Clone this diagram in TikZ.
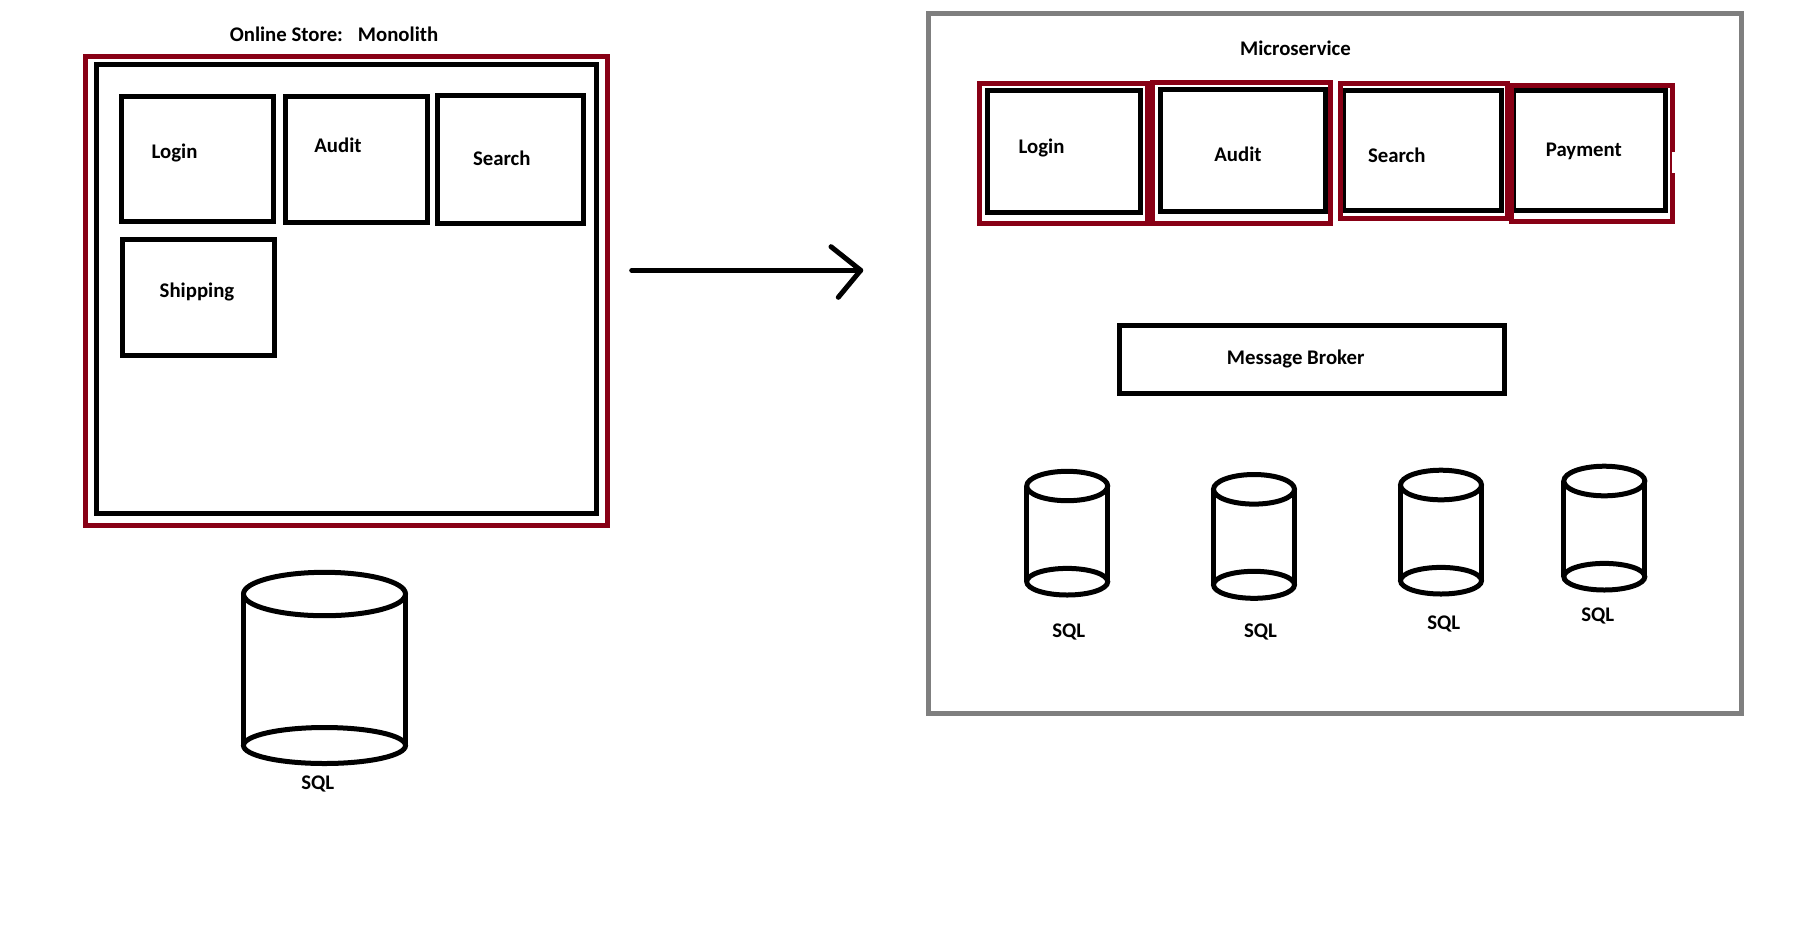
\documentclass[tikz,border=0pt]{standalone}
\usepackage{fontspec}
\setmainfont{Carlito}
\usetikzlibrary{positioning}
\definecolor{darkred}{HTML}{880015}
\definecolor{framegray}{HTML}{7F7F7F}

\begin{document}
\begin{tikzpicture}[x=1pt,y=-1pt,font=\fontsize{20.8}{25}\selectfont\bfseries,
  box/.style 2 args={draw,line width=5pt,inner sep=0pt,minimum width={#1pt-5pt},minimum height={#2pt-5pt}},
  lbl/.style={anchor=base,inner sep=0pt},
  dbline/.style={draw,line width=5pt},
  arrowline/.style={draw,line width=5pt,line cap=round,line join=round}]
\useasboundingbox (0,0) rectangle (1814,930);
% monolith
\node[box={527}{474},draw=darkred] (mono) at (346.5,291) {};
\node[box={504.6}{454}] (monoin) at (346.3,289) {};
\node[box={157}{130}] (mlogin) at (197.5,159) {};
\node[box={147}{131}] (maudit) at (356.4,159.5) {};
\node[box={151}{133}] (msearch) at (510.5,159.5) {};
\node[box={157.1}{121}] (mship) at (198.6,297.5) {};
\node[lbl] (tmono) at (334,41) {Online Store:\hspace{15pt}Monolith};
\node[lbl] (tlogin) at (174.5,158) {Login};
\node[lbl] (taudit) at (338,152) {Audit};
\node[lbl] (tsearch) at (501.8,165) {Search};
\node[lbl] (tship) at (197,297.3) {Shipping};
% microservice
\node[box={818}{705},draw=framegray] (micro) at (1335,363.5) {};
\node[box={158}{127}] (login) at (1064,151.5) {};
\node[box={173.3}{145},draw=darkred] (rlogin) at (1063.7,153.5) {};
\node[box={170}{127}] (audit) at (1243,150.5) {};
\node[box={183}{146},draw=darkred] (raudit) at (1241.5,153) {};
\node[box={162.7}{125}] (search) at (1422.7,150.5) {};
\node[box={172}{140},draw=darkred] (rsearch) at (1424,151) {};
\node[box={157}{125}] (pay) at (1589.5,150.5) {};
\node[box={166}{141},draw=darkred] (rpay) at (1592,153.5) {};
\fill[white] (1672,152) rectangle (1675.5,173);
\node[box={390}{73}] (broker) at (1312,359.5) {};
\node[lbl] (tmicro) at (1295.5,55) {Microservice};
\node[lbl] (tlogin2) at (1041.5,153) {Login};
\node[lbl] (taudit2) at (1238,161) {Audit};
\node[lbl] (tsearch2) at (1396.8,162) {Search};
\node[lbl] (tpay) at (1583.8,156.5) {Payment};
\node[lbl] (tbroker) at (1295.7,364.5) {Message Broker};
% databases
\foreach \x/\yt/\yb/\rx/\rt/\rb in {324.5/594/745.5/81/21.7/18,
    1067.2/486/581.7/40.5/14.7/13.3, 1254/489.3/584.8/40.5/14.8/13.5,
    1441/485/580.7/40.5/14.8/13.3, 1604.3/481/576.7/40.5/14.8/13.3} {
  \draw[dbline] (\x,\yt) ellipse [x radius=\rx pt,y radius=\rt pt];
  \draw[dbline] (\x,\yb) ellipse [x radius=\rx pt,y radius=\rb pt];
  \draw[dbline] ({\x-\rx},\yt) -- ({\x-\rx},\yb);
  \draw[dbline] ({\x+\rx},\yt) -- ({\x+\rx},\yb);
}
\node[lbl] (sql0) at (317.8,789.5) {SQL};
\node[lbl] (sql1) at (1068.7,637.5) {SQL};
\node[lbl] (sql2) at (1260.5,637.5) {SQL};
\node[lbl] (sql3) at (1443.7,629.5) {SQL};
\node[lbl] (sql4) at (1597.8,621.5) {SQL};
% arrow
\coordinate (arrowstart) at (631.7,270.3);
\coordinate (arrowtip) at (860.7,270.3);
\coordinate (barbtop) at (831,246.7);
\coordinate (barbbot) at (838.3,297.3);
\draw[arrowline] (arrowstart) -- (arrowtip);
\draw[arrowline] (barbtop) -- (arrowtip) -- (barbbot);
\end{tikzpicture}
\end{document}
